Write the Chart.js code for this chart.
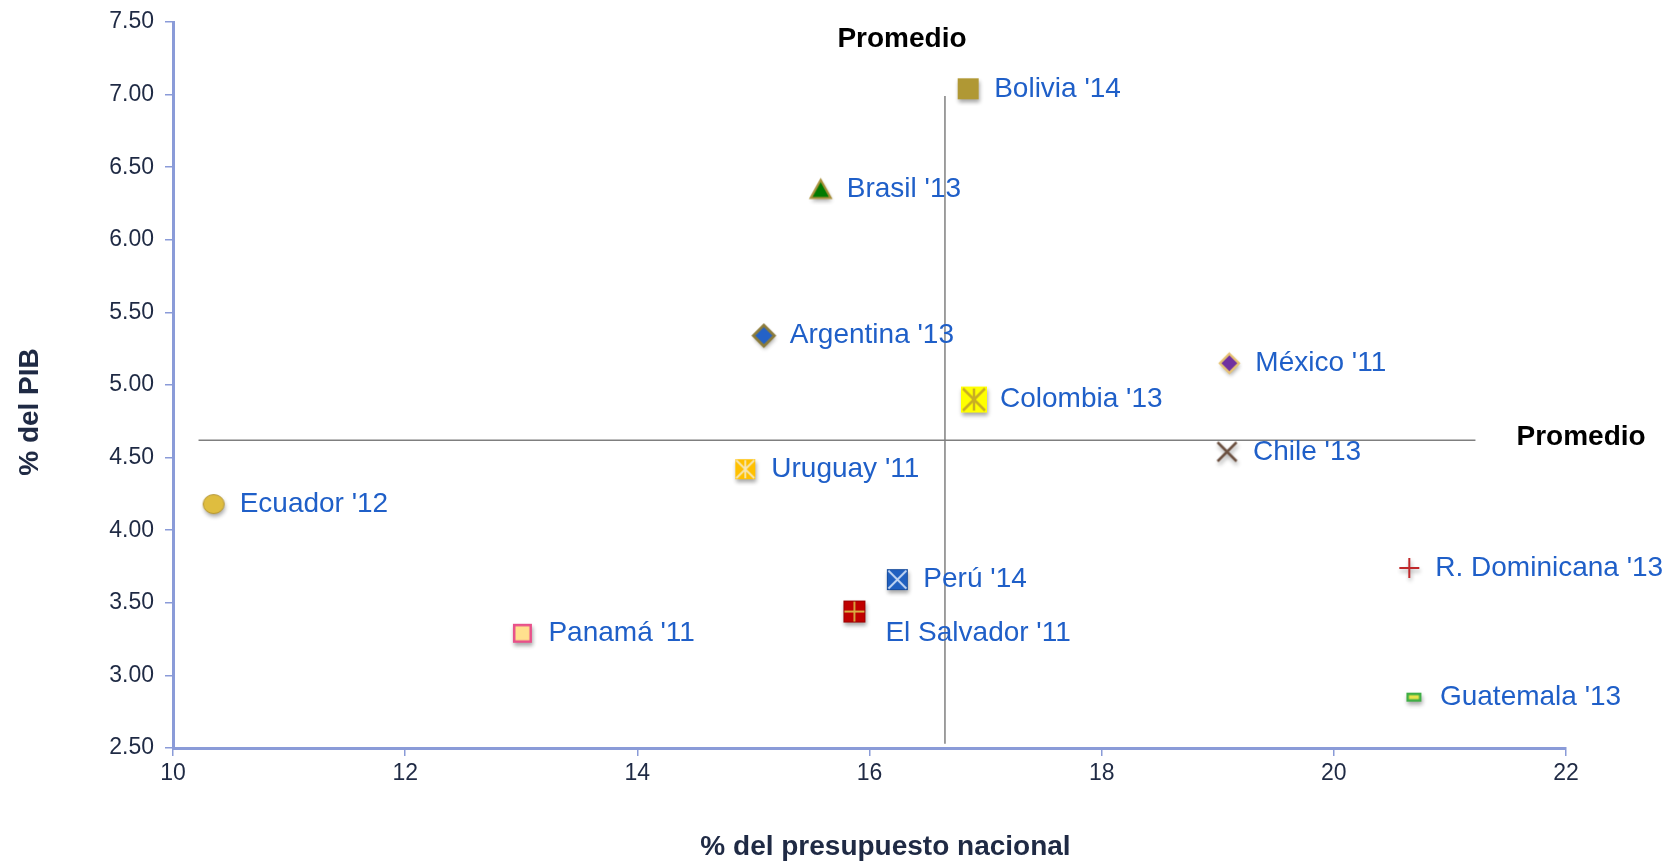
<!DOCTYPE html>
<html>
<head>
<meta charset="utf-8">
<script src="https://cdn.jsdelivr.net/npm/chart.js@4.4.1/dist/chart.umd.min.js"></script>
<style>
  html, body { margin: 0; padding: 0; background: #fff; }
  #wrap { width: 1677px; height: 865px; position: relative; }
</style>
</head>
<body>
<div id="wrap"><canvas id="gasto"></canvas></div>
<script>
// ---- datos ----
const paises = ["Bolivia '14", "Brasil '13", "Argentina '13", "México '11", "Colombia '13", "Chile '13",
  "Uruguay '11", "Ecuador '12", "Perú '14", "El Salvador '11", "Panamá '11", "R. Dominicana '13", "Guatemala '13"];
const pctPresupuesto = [16.85, 15.58, 15.09, 19.10, 16.90, 19.08, 14.93, 10.35, 16.24, 15.87, 13.01, 20.65, 20.69];
const pctPIB = [7.04, 6.35, 5.34, 5.15, 4.90, 4.54, 4.42, 4.18, 3.66, 3.44, 3.29, 3.74, 2.85];

// líneas de promedio
const promedioX = 16.65;
const promedioY = 4.62;
const promedioXTramo = [2.53, 6.99];   // extremos en el eje y
const promedioYTramo = [10.22, 21.22]; // extremos en el eje x

const xTicks = [10, 12, 14, 16, 18, 20, 22];
const yTicks = [2.5, 3.0, 3.5, 4.0, 4.5, 5.0, 5.5, 6.0, 6.5, 7.0, 7.5];
const tituloX = '% del presupuesto nacional';
const tituloY = '% del PIB';

// ---- marcadores (canvas con sombra) ----
function marker(w, h, draw) {
  const pad = 7;
  const c = document.createElement('canvas');
  c.width = w + pad * 2;
  c.height = h + pad * 2;
  const g = c.getContext('2d');
  g.translate(pad + w / 2, pad + h / 2);
  g.shadowColor = 'rgba(0,0,0,0.35)';
  g.shadowBlur = 4;
  g.shadowOffsetX = 1;
  g.shadowOffsetY = 3;
  draw(g, w, h);
  return c;
}
function noShadow(g) { g.shadowColor = 'rgba(0,0,0,0)'; }
function sq(g, s, fill, stroke, lw) {
  g.fillStyle = fill;
  g.fillRect(-s / 2, -s / 2, s, s);
  noShadow(g);
  if (stroke) { g.strokeStyle = stroke; g.lineWidth = lw; g.strokeRect(-s / 2 + lw / 2, -s / 2 + lw / 2, s - lw, s - lw); }
}
function lines(g, segs, color, lw) {
  g.strokeStyle = color; g.lineWidth = lw;
  g.beginPath();
  segs.forEach(s => { g.moveTo(s[0], s[1]); g.lineTo(s[2], s[3]); });
  g.stroke();
}
function rombo(g, r, fill, stroke, lw) {
  g.beginPath(); g.moveTo(0, -r); g.lineTo(r, 0); g.lineTo(0, r); g.lineTo(-r, 0); g.closePath();
  g.fillStyle = fill; g.fill(); noShadow(g);
  g.strokeStyle = stroke; g.lineWidth = lw; g.stroke();
}

const estilos = {
  "Bolivia '14": marker(21, 21, g => sq(g, 21, '#B09834')),
  "Brasil '13": marker(21, 19, g => {
    g.beginPath(); g.moveTo(0, -9); g.lineTo(10, 9); g.lineTo(-10, 9); g.closePath();
    g.fillStyle = '#007A00'; g.fill(); noShadow(g);
    g.strokeStyle = '#A8903A'; g.lineWidth = 2.2; g.stroke();
  }),
  "Argentina '13": marker(23, 23, g => rombo(g, 10.5, '#2462C8', '#8B7B3B', 2.8)),
  "México '11": marker(21, 21, g => rombo(g, 9.5, '#7030A0', '#E6C273', 2.3)),
  "Colombia '13": marker(26, 26, g => {
    sq(g, 26, '#FFFF00');
    lines(g, [[0, -11, 0, 11], [-11, -11, 11, 11], [11, -11, -11, 11]], '#C9AE23', 2.5);
  }),
  "Chile '13": marker(21, 21, g => {
    lines(g, [[-9.5, -9.5, 9.5, 9.5], [9.5, -9.5, -9.5, 9.5]], '#6B5040', 2.5);
  }),
  "Uruguay '11": marker(20, 20, g => {
    sq(g, 20, '#FFC000');
    lines(g, [[0, -9, 0, 9], [-9, -9, 9, 9], [9, -9, -9, 9]], '#F6E7B8', 1.8);
  }),
  "Ecuador '12": marker(22, 20, g => {
    g.beginPath(); g.ellipse(0, 0, 10.5, 9.5, 0, 0, Math.PI * 2);
    g.fillStyle = '#DFBD3F'; g.fill(); noShadow(g);
    g.strokeStyle = '#B39431'; g.lineWidth = 1; g.stroke();
  }),
  "Perú '14": marker(21, 21, g => {
    sq(g, 21, '#2060C0', '#1A4E9E', 1);
    lines(g, [[-9, -9, 9, 9], [9, -9, -9, 9]], '#C8DAF5', 1.8);
  }),
  "El Salvador '11": marker(22, 22, g => {
    sq(g, 22, '#C00000', '#990000', 1);
    lines(g, [[0, -10, 0, 10], [-10, 0, 10, 0]], '#D9B043', 1.8);
  }),
  "Panamá '11": marker(19, 19, g => sq(g, 19, '#FFE08E', '#E8508A', 2.5)),
  "R. Dominicana '13": marker(20, 20, g => {
    lines(g, [[0, -10, 0, 10], [-10, 0, 10, 0]], '#C0282A', 2);
  }),
  "Guatemala '13": marker(15, 9, g => {
    g.fillStyle = '#E7E34A'; g.fillRect(-7.5, -4.5, 15, 9); noShadow(g);
    g.strokeStyle = '#3FAE45'; g.lineWidth = 2.5; g.strokeRect(-6.25, -3.25, 12.5, 6.5);
  })
};

// posición de las etiquetas (desplazamiento respecto al punto)
const desplazamiento = { "El Salvador '11": [31, 22] };
const FONT = '"Liberation Sans", Arial, sans-serif';
const tickColor = '#1F2A44';
const axisColor = '#8A9BD8';

const etiquetas = {
  id: 'etiquetas',
  afterDatasetsDraw(chart) {
    const { ctx, scales: { x, y } } = chart;
    ctx.save();
    ctx.font = '28px ' + FONT;
    ctx.fillStyle = '#1F5FC8';
    ctx.textAlign = 'left';
    ctx.textBaseline = 'middle';
    paises.forEach((p, i) => {
      const off = desplazamiento[p] || [26, 0];
      ctx.fillText(p, x.getPixelForValue(pctPresupuesto[i]) + off[0], y.getPixelForValue(pctPIB[i]) + off[1]);
    });
    // rótulos "Promedio"
    ctx.font = 'bold 28px ' + FONT;
    ctx.fillStyle = '#000';
    ctx.textAlign = 'center';
    ctx.fillText('Promedio', x.getPixelForValue(16.28), y.getPixelForValue(7.38));
    ctx.fillText('Promedio', x.getPixelForValue(22.13), y.getPixelForValue(4.64));
    // títulos de ejes (algo descentrados como en el original)
    ctx.fillStyle = tickColor;
    ctx.fillText(tituloX, (x.left + x.right) / 2 + 16, x.bottom - 18);
    ctx.translate(y.left + 30, (y.top + y.bottom) / 2 + 27);
    ctx.rotate(-Math.PI / 2);
    ctx.fillText(tituloY, 0, 0);
    ctx.restore();
  }
};

const puntos = paises.map((p, i) => ({
  label: p,
  data: [{ x: pctPresupuesto[i], y: pctPIB[i] }],
  pointStyle: estilos[p],
  pointRadius: 10,
  clip: false
}));

const lineasPromedio = [
  {
    label: 'Promedio x',
    data: promedioXTramo.map(v => ({ x: promedioX, y: v })),
    showLine: true, borderColor: '#7F7F7F', borderWidth: 1.5, pointRadius: 0
  },
  {
    label: 'Promedio y',
    data: promedioYTramo.map(v => ({ x: v, y: promedioY })),
    showLine: true, borderColor: '#7F7F7F', borderWidth: 1.5, pointRadius: 0
  }
];

const ctx = document.getElementById('gasto').getContext('2d');

new Chart(ctx, {
  type: 'scatter',
  data: { datasets: [...lineasPromedio, ...puntos] },
  options: {
    responsive: true,
    maintainAspectRatio: false,
    animation: false,
    layout: { padding: { left: 0, right: 111, top: 22, bottom: 0 } },
    plugins: { legend: { display: false }, tooltip: { enabled: false } },
    scales: {
      x: {
        type: 'linear',
        min: 10, max: 22,
        afterBuildTicks: s => { s.ticks = xTicks.map(v => ({ value: v })); },
        afterFit: s => { s.height = 117; s.paddingLeft = 0; s.paddingRight = 0; },
        ticks: { color: tickColor, font: { size: 23, family: FONT }, padding: 4, maxRotation: 0 },
        grid: { drawOnChartArea: false, color: axisColor, tickLength: 8, lineWidth: 1.5 },
        border: { color: axisColor, width: 3 }
      },
      y: {
        type: 'linear',
        min: 2.5, max: 7.5,
        afterBuildTicks: s => { s.ticks = yTicks.map(v => ({ value: v })); },
        afterFit: s => { s.width = 173; s.paddingTop = 0; s.paddingBottom = 0; },
        ticks: { color: tickColor, font: { size: 23, family: FONT }, padding: 11, callback: v => v.toFixed(2) },
        grid: { drawOnChartArea: false, color: axisColor, tickLength: 8, lineWidth: 1.5 },
        border: { color: axisColor, width: 3 }
      }
    }
  },
  plugins: [etiquetas]
});
</script>
</body>
</html>
